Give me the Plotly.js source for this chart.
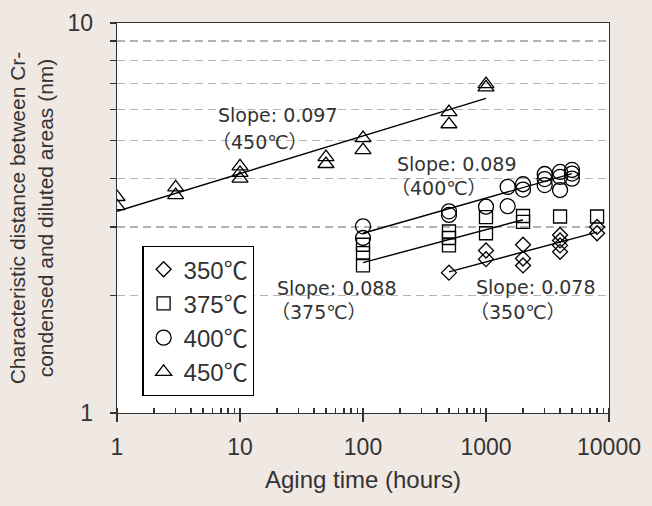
<!DOCTYPE html>
<html><head><meta charset="utf-8">
<script src="https://cdn.plot.ly/plotly-3.0.1.min.js"></script>
<style>html,body{margin:0;padding:0;background:#f0e8e2;}</style>
</head><body>
<div id="chart" style="width:652px;height:506px;"></div>
<script>
// ---- data ----
const legendNames = ['350℃', '375℃', '400℃', '450℃'];

const time350 = [500, 1000, 1000, 2000, 2000, 2000, 4000, 4000, 4000, 4000, 8000, 8000];
const dist350 = [2.29, 2.61, 2.48, 2.70, 2.49, 2.39, 2.86, 2.77, 2.69, 2.59, 3.00, 2.89];

const time375 = [100, 100, 100, 500, 500, 500, 1000, 1000, 2000, 2000, 4000, 8000];
const dist375 = [2.70, 2.57, 2.39, 2.92, 2.81, 2.69, 3.18, 2.89, 3.20, 3.09, 3.19, 3.19];

const time400 = [100, 100, 500, 500, 1000, 1500, 1500, 2000, 2000, 3000, 3000, 3000, 4000, 4000, 4000, 5000, 5000, 5000];
const dist400 = [3.01, 2.81, 3.29, 3.22, 3.38, 3.80, 3.39, 3.86, 3.74, 4.10, 3.98, 3.84, 4.15, 4.03, 3.73, 4.20, 4.11, 3.99];

const time450 = [1, 1, 3, 3, 10, 10, 10, 50, 50, 100, 100, 500, 500, 1000, 1000];
const dist450 = [3.58, 3.39, 3.79, 3.62, 4.29, 4.13, 3.99, 4.53, 4.35, 5.07, 4.72, 5.91, 5.50, 6.97, 6.84];

// fitted power-law lines (end points)
const fitTime350 = [500, 8000];  const fitDist350 = [2.30, 2.91];
const fitTime375 = [100, 2000];  const fitDist375 = [2.43, 3.13];
const fitTime400 = [100, 5000];  const fitDist400 = [2.89, 4.11];
const fitTime450 = [1, 1000];    const fitDist450 = [3.29, 6.41];

const slopeLabels = ['Slope: 0.078', 'Slope: 0.088', 'Slope: 0.089', 'Slope: 0.097'];
const tempLabels = ['（350℃）', '（375℃）', '（400℃）', '（450℃）'];

const yTickVals = [1, 2, 3, 4, 5, 6, 7, 8, 9, 10];
const yTickText = ['1', '', '', '', '', '', '', '', '', '10'];
const xTickVals = [1, 10, 100, 1000, 10000];
const xTickText = ['1', '10', '100', '1000', '10000'];

// ---- layout helpers ----
const L = 117, R = 608.7, T = 22.7, B = 413;
const pxX = x => (x - L) / (R - L);
const pxY = y => (B - y) / (B - T);
const textCol = '#333333';
const annFont = {family: 'DejaVu Sans, Noto Sans CJK JP, sans-serif', size: 19, color: textCol};

function pts(x, y, name, symbol, size) {
  return {x: x, y: y, name: name, type: 'scatter', mode: 'markers',
    marker: {symbol: symbol, size: size, color: '#000', line: {width: 1.3, color: '#000'}}};
}
function fit(x, y) {
  return {x: x, y: y, type: 'scatter', mode: 'lines', showlegend: false, hoverinfo: 'skip',
    line: {color: '#000', width: 1.4}};
}

const traces = [
  fit(fitTime350, fitDist350), fit(fitTime375, fitDist375), fit(fitTime400, fitDist400), fit(fitTime450, fitDist450),
  pts(time350, dist350, legendNames[0], 'diamond-open', 11.5),
  pts(time375, dist375, legendNames[1], 'square-open', 13),
  pts(time400, dist400, legendNames[2], 'circle-open', 15),
  pts(time450, dist450, legendNames[3], 'triangle-up-open', 14)
];

const annPos = [
  [[474, 287], [468, 312]],
  [[275, 288], [269, 312]],
  [[395, 164], [389, 188.3]],
  [[216, 115], [210, 141.7]]
];
const annotations = [];
for (let i = 0; i < 4; i++) {
  annotations.push({xref: 'paper', yref: 'paper', x: pxX(annPos[i][0][0]), y: pxY(annPos[i][0][1]),
    xanchor: 'left', yanchor: 'middle', showarrow: false, text: slopeLabels[i], font: annFont});
  annotations.push({xref: 'paper', yref: 'paper', x: pxX(annPos[i][1][0]), y: pxY(annPos[i][1][1]),
    xanchor: 'left', yanchor: 'middle', showarrow: false, text: tempLabels[i], font: annFont});
}

const axisFont = {family: 'Liberation Sans, Arial, sans-serif', size: 23, color: textCol};

const layout = {
  width: 652, height: 506,
  paper_bgcolor: '#f0e8e2', plot_bgcolor: '#ffffff',
  margin: {l: L, r: 652 - R, t: T, b: 506 - B, pad: 0},
  showlegend: true,
  legend: {x: pxX(142.3), y: pxY(245.7), xanchor: 'left', yanchor: 'top',
    bgcolor: '#ffffff', bordercolor: '#000', borderwidth: 1.3,
    font: {family: 'Liberation Sans, Noto Sans CJK JP, sans-serif', size: 24, color: textCol},
    traceorder: 'normal', itemsizing: 'trace'},
  xaxis: {type: 'log', range: [0, 4], tickvals: xTickVals, ticktext: xTickText,
    ticks: 'outside', ticklen: 8, tickwidth: 1.3, tickcolor: '#333', ticklabelstandoff: 5,
    minor: {dtick: 'D1', ticks: 'inside', ticklen: 5, tickwidth: 1.3, tickcolor: '#333', showgrid: false},
    showline: true, mirror: true, linecolor: '#333', linewidth: 1.4,
    showgrid: false, zeroline: false, tickfont: axisFont,
    title: {text: 'Aging time (hours)', font: {family: 'Liberation Sans, Arial, sans-serif', size: 24, color: textCol}, standoff: 12}},
  xaxis2: {type: 'log', range: [0, 4], overlaying: 'x', anchor: 'y', side: 'bottom',
    tickvals: xTickVals, ticks: 'inside', ticklen: 5, tickwidth: 1.3, tickcolor: '#333',
    showticklabels: false, showgrid: false, showline: false, zeroline: false},
  yaxis: {type: 'log', range: [0, 1], tickvals: yTickVals, ticktext: yTickText,
    ticks: 'outside', ticklen: 6, tickwidth: 1.3, tickcolor: '#333', ticklabelstandoff: 12,
    showline: true, mirror: true, linecolor: '#333', linewidth: 1.4,
    showgrid: true, gridcolor: '#b3b3b3', gridwidth: 1.3, griddash: '8px,5px',
    zeroline: false, tickfont: axisFont,
    title: {text: 'Characteristic distance between Cr-<br>condensed and diluted areas (nm)',
      font: {family: 'Liberation Sans, Arial, sans-serif', size: 21, color: textCol}, standoff: 8}},
  annotations: annotations
};

Plotly.newPlot('chart', traces.concat([{x: [1], y: [1], xaxis: 'x2', yaxis: 'y', type: 'scatter', mode: 'markers',
  marker: {opacity: 0}, showlegend: false, hoverinfo: 'skip'}]), layout, {staticPlot: true});
</script>
</body></html>
